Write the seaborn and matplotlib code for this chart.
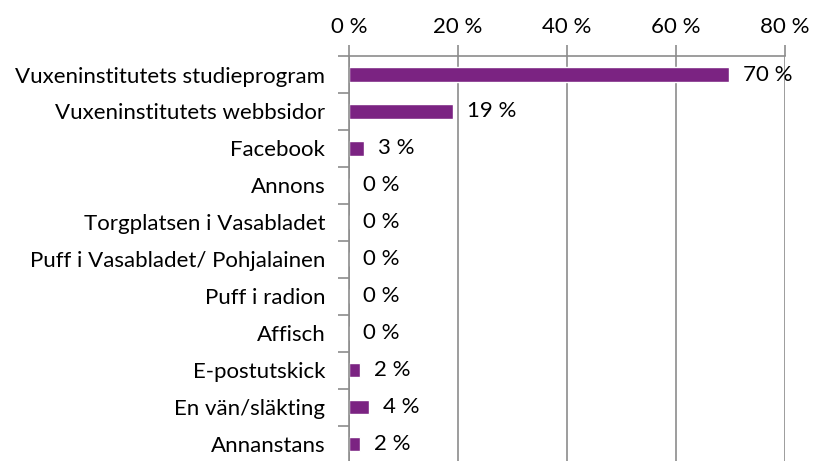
import numpy as np
import pandas as pd
import seaborn as sns
import matplotlib.pyplot as plt
from matplotlib.ticker import FixedLocator

# ---------------------------
# Data
# ---------------------------

categories = [
    "Vuxeninstitutets studieprogram",
    "Vuxeninstitutets webbsidor",
    "Facebook",
    "Annons",
    "Torgplatsen i Vasabladet",
    "Puff i Vasabladet/ Pohjalainen",
    "Puff i radion",
    "Affisch",
    "E-postutskick",
    "En vän/släkting",
    "Annanstans",
]
shares = [69.8, 19.1, 2.7, 0, 0, 0, 0, 0, 2.1, 3.7, 2.1]
value_labels = ["70 %", "19 %", "3 %", "0 %", "0 %", "0 %", "0 %", "0 %", "2 %", "4 %", "2 %"]
x_ticks = [0, 20, 40, 60, 80]

df = pd.DataFrame({"Kanal": categories, "Andel": shares})

# ---------------------------
# Style
# ---------------------------

sns.set_theme(style="white")
plt.rcParams["font.family"] = ["Lato", "DejaVu Sans"]

bar_color = "#7b2382"
grid_color = "#8c8c8c"
fs = 16

fig = plt.figure(figsize=(8.14, 4.61), dpi=100)
ax = fig.add_axes([0.4287, -0.004, 0.5357, 0.8825])

sns.barplot(data=df, x="Andel", y="Kanal", orient="h", color=bar_color,
            width=0.38, saturation=1, ax=ax)

ax.set_xlim(0, 80)
ax.set_ylim(len(categories) - 0.5, -0.5)

# x axis on top
ax.xaxis.set_ticks_position("top")
ax.set_xticks(x_ticks)
ax.set_xticklabels([f"{t} %" for t in x_ticks])
ax.tick_params(axis="x", which="major", direction="out", length=8, width=1.2,
               color=grid_color, labelsize=fs, pad=6, labelcolor="black")
ax.set_xlabel("")
ax.set_ylabel("")

# y labels at centers, tick marks at boundaries
ax.tick_params(axis="y", which="major", length=0, labelsize=fs, pad=17,
               labelcolor="black")
ax.yaxis.set_minor_locator(FixedLocator(np.arange(-0.5, len(categories), 1.0)))
ax.tick_params(axis="y", which="minor", direction="out", length=8, width=1.2,
               color=grid_color, left=True)

ax.grid(axis="x", color=grid_color, linewidth=1.2)
ax.set_axisbelow(True)

for loc, spine in ax.spines.items():
    if loc in ["left", "top"]:
        spine.set_visible(True)
        spine.set_color(grid_color)
        spine.set_linewidth(1.2)
    else:
        spine.set_visible(False)

# value labels
for i, (v, lab) in enumerate(zip(shares, value_labels)):
    ax.annotate(lab, xy=(v, i), xytext=(10, 0), textcoords="offset points",
                va="center", ha="left", fontsize=fs, color="black")

fig.savefig("out.png", dpi=100)
